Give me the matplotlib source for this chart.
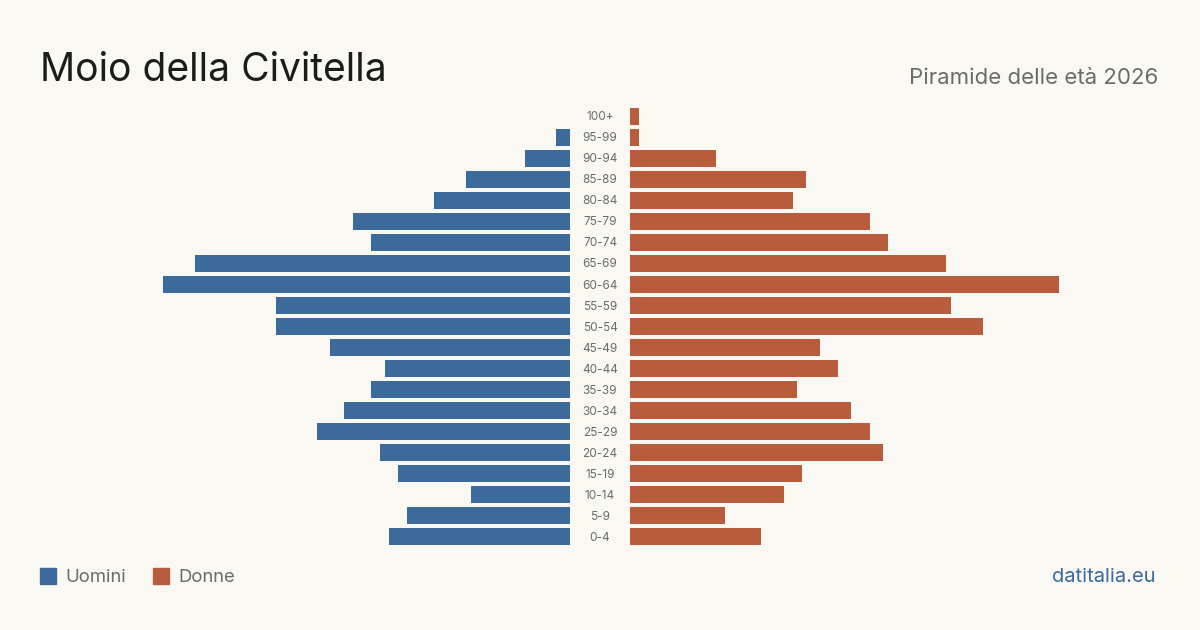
import matplotlib
matplotlib.use("Agg")
import matplotlib.pyplot as plt
import matplotlib.transforms as mtransforms
from matplotlib.patches import Rectangle
import numpy as np

plt.rcParams['font.family'] = ['Inter', 'DejaVu Sans']

age_groups = ["100+", "95-99", "90-94", "85-89", "80-84", "75-79", "70-74", "65-69",
              "60-64", "55-59", "50-54", "45-49", "40-44", "35-39", "30-34", "25-29",
              "20-24", "15-19", "10-14", "5-9", "0-4"]
men = [0, 3, 10, 23, 30, 48, 44, 83, 90, 65, 65, 53, 41, 44, 50, 56, 42, 38, 22, 36, 40]
women = [2, 2, 19, 39, 36, 53, 57, 70, 95, 71, 78, 42, 46, 37, 49, 53, 56, 38, 34, 21, 29]

title = "Moio della Civitella"
subtitle = "Piramide delle età 2026"
legend_labels = ["Uomini", "Donne"]
source = "datitalia.eu"

BG = "#f9f8f3"
C_MEN = "#3b6a9b"
C_WOMEN = "#b95c3c"
C_GRAY = "#6b6b6b"

W, H = 1200, 630
fig = plt.figure(figsize=(12, 6.3), dpi=100, facecolor=BG)

px_per_unit = 4.52
ax_w_px = 450
xmax = ax_w_px / px_per_unit
bottom = 1 - 547.2 / H
height = (547.2 - 105.8) / H

axL = fig.add_axes([120 / W, bottom, ax_w_px / W, height])
axR = fig.add_axes([630 / W, bottom, ax_w_px / W, height])

y = np.arange(len(age_groups))
axL.barh(y, men, height=0.8, color=C_MEN)
axR.barh(y, women, height=0.8, color=C_WOMEN)

axL.set_xlim(xmax, 0)
axR.set_xlim(0, xmax)
for ax in (axL, axR):
    ax.set_ylim(len(age_groups) - 0.5, -0.5)
    ax.set_facecolor("none")
    ax.axis("off")

trans = mtransforms.blended_transform_factory(fig.transFigure, axL.transData)
for yi, lab in zip(y, age_groups):
    fig.text(600 / W, yi + 0.05, lab, transform=trans, ha="center", va="center",
             fontsize=8.5, color=C_GRAY)

fig.text(40 / W, 1 - 80.7 / H, title, ha="left", va="baseline",
         fontsize=28.1, color="#1c1c1c")
fig.text(1158 / W, 1 - 84 / H, subtitle, ha="right", va="baseline",
         fontsize=16, color=C_GRAY)

# legend
for xs, xt, lab, col in [(40, 65, legend_labels[0], C_MEN), (153, 178, legend_labels[1], C_WOMEN)]:
    fig.patches.append(Rectangle((xs / W, 1 - 584 / H), 16 / W, 16 / H,
                                 transform=fig.transFigure, color=col))
    fig.text(xt / W, 1 - 577 / H, lab, ha="left", va="center",
             fontsize=13.3, color=C_GRAY)

fig.text(1156 / W, 1 - 577 / H, source, ha="right", va="center",
         fontsize=14.5, color=C_MEN)

fig.savefig("out.png", dpi=100, facecolor=BG)
